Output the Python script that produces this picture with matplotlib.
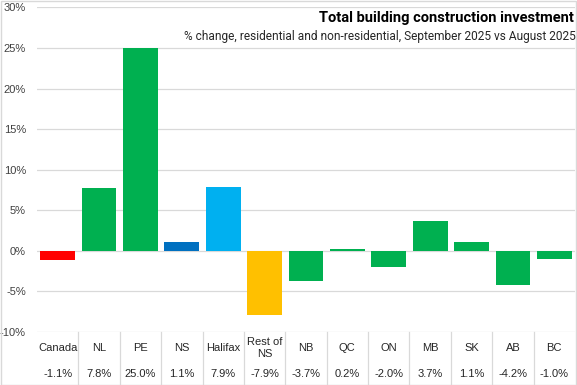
import matplotlib
matplotlib.use("Agg")
from matplotlib import pyplot as plt
from matplotlib.patches import Rectangle

regions = ["Canada", "NL", "PE", "NS", "Halifax", "Rest of\nNS", "NB", "QC", "ON", "MB", "SK", "AB", "BC"]
change = [-1.1, 7.8, 25.0, 1.1, 7.9, -7.9, -3.7, 0.2, -2.0, 3.7, 1.1, -4.2, -1.0]
value_labels = ["-1.1%", "7.8%", "25.0%", "1.1%", "7.9%", "-7.9%", "-3.7%", "0.2%", "-2.0%", "3.7%", "1.1%", "-4.2%", "-1.0%"]
colors = ["#FF0000", "#00B050", "#00B050", "#0070C0", "#00B0F0", "#FFC000",
          "#00B050", "#00B050", "#00B050", "#00B050", "#00B050", "#00B050", "#00B050"]
yticks = [-10, -5, 0, 5, 10, 15, 20, 25, 30]

plt.rcParams['font.family'] = ['Liberation Sans', 'DejaVu Sans']

fig = plt.figure(figsize=(5.77, 3.85), dpi=100)
ax = fig.add_axes([0.0641, 0.1377, 0.9324, 0.8431])

x = list(range(len(regions)))
ax.bar(x, change, width=0.84, color=colors, zorder=2)

ax.set_xlim(-0.5, len(regions) - 0.5)
ax.set_ylim(-10, 30)
ax.set_yticks(yticks)
ax.set_yticklabels([f"{t}%" for t in yticks], fontsize=8, color="#404040")
ax.tick_params(axis="y", length=0, pad=8)
ax.set_xticks([])
ax.grid(axis="y", color="#D9D9D9", linewidth=0.9, zorder=0)
for s in ax.spines.values():
    s.set_visible(False)

# table under the plot
trans = ax.get_xaxis_transform()
for i in x:
    ax.text(i, -0.049, regions[i], transform=trans, ha="center", va="center",
            fontsize=8, color="#262626", linespacing=1.3)
    ax.text(i, -0.130, value_labels[i], transform=trans, ha="center", va="center",
            fontsize=8, color="#262626")
    if i > 0:
        ax.plot([i - 0.5, i - 0.5], [0, -0.165], transform=trans, color="#D9D9D9",
                linewidth=0.9, clip_on=False)

fig.text(0.995, 0.953, "Total building construction investment", ha="right", va="center",
         fontsize=10.5, fontweight="bold", family=["Roboto", "DejaVu Sans"], color="#000000")
fig.text(0.998, 0.904, "% change, residential and non-residential, September 2025 vs August 2025",
         ha="right", va="center", fontsize=8.6, family=["Roboto", "DejaVu Sans"], color="#262626")

fig.patches.append(Rectangle((0.001, 0.001), 0.997, 0.997, transform=fig.transFigure,
                             fill=False, edgecolor="#D9D9D9", linewidth=1))

fig.savefig("out.png", dpi=100)
